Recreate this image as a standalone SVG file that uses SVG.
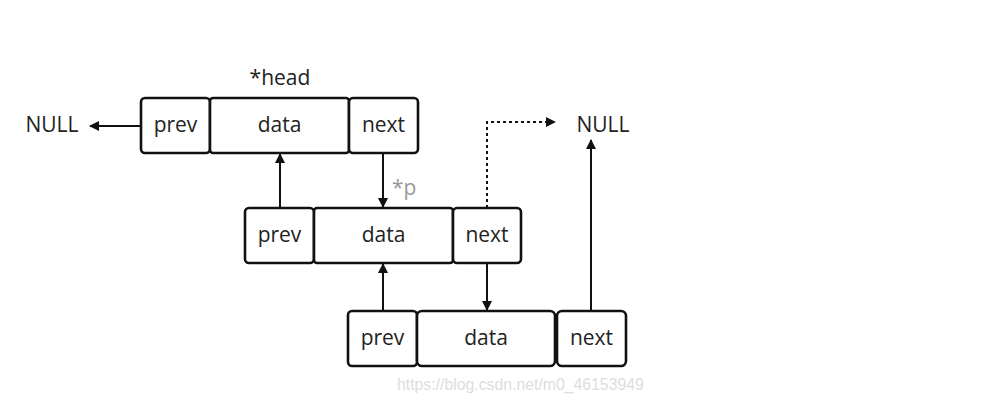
<svg xmlns="http://www.w3.org/2000/svg" width="983" height="418" viewBox="0 0 983 418">
<defs>
<marker id="ah" viewBox="0 0 10 10" refX="9" refY="5" markerWidth="5" markerHeight="5" orient="auto"><path d="M0,0 L10,5 L0,10 z" fill="#111"/></marker>
<style>
.b{fill:#fff;stroke:#111;stroke-width:2.6;}
.t{font-family:"Open Sans","DejaVu Sans",sans-serif;font-size:21px;fill:#222;text-anchor:middle;}
.c{fill:none;stroke:#111;stroke-width:2;}
.d{stroke-dasharray:3,3;}
.wm{font-family:"Liberation Sans",Arial,sans-serif;font-size:15.8px;fill:#ddd;}
</style>
</defs>
<rect width="983" height="418" fill="#fff"/>
<g id="node1">
<rect class="b" x="141" y="98" width="69" height="55" rx="4"/>
<rect class="b" x="210" y="98" width="139" height="55" rx="3"/>
<rect class="b" x="349" y="98" width="69" height="55" rx="4"/>
<text class="t" x="175.5" y="132">prev</text>
<text class="t" x="279.5" y="132">data</text>
<text class="t" x="383.5" y="132">next</text>
<text class="t" x="280" y="85">*head</text>
</g>
<g id="node2">
<rect class="b" x="245" y="208" width="69" height="55" rx="4"/>
<rect class="b" x="314" y="208" width="139" height="55" rx="3"/>
<rect class="b" x="453" y="208" width="68" height="55" rx="4"/>
<text class="t" x="279.5" y="242">prev</text>
<text class="t" x="383.5" y="242">data</text>
<text class="t" x="487" y="242">next</text>
</g>
<g id="node3">
<rect class="b" x="348" y="311" width="69" height="55" rx="4"/>
<rect class="b" x="417" y="311" width="138" height="55" rx="5"/>
<rect class="b" x="557" y="311" width="69" height="55" rx="5"/>
<text class="t" x="382.5" y="345">prev</text>
<text class="t" x="486" y="345">data</text>
<text class="t" x="591.5" y="345">next</text>
</g>
<g id="null-left"><text class="t" x="52" y="132">NULL</text></g>
<g id="null-right"><text class="t" x="603" y="132">NULL</text></g>
<g id="connectors">
<path class="c" d="M141,126 L90,126" marker-end="url(#ah)"/>
<path class="c" d="M280,208 L280,154" marker-end="url(#ah)"/>
<path class="c" d="M383,153 L383,207" marker-end="url(#ah)"/>
<path class="c d" d="M487,208 L487,122 L555,122" marker-end="url(#ah)"/>
<path class="c" d="M383,311 L383,264" marker-end="url(#ah)"/>
<path class="c" d="M487,263 L487,310" marker-end="url(#ah)"/>
<path class="c" d="M591,311 L591,140" marker-end="url(#ah)"/>
<text x="392" y="195" style="font-family:'Open Sans','DejaVu Sans',sans-serif;font-size:21px;fill:#999;">*p</text>
</g>
<text class="wm" x="397" y="390">https://blog.csdn.net/m0_46153949</text>
</svg>
